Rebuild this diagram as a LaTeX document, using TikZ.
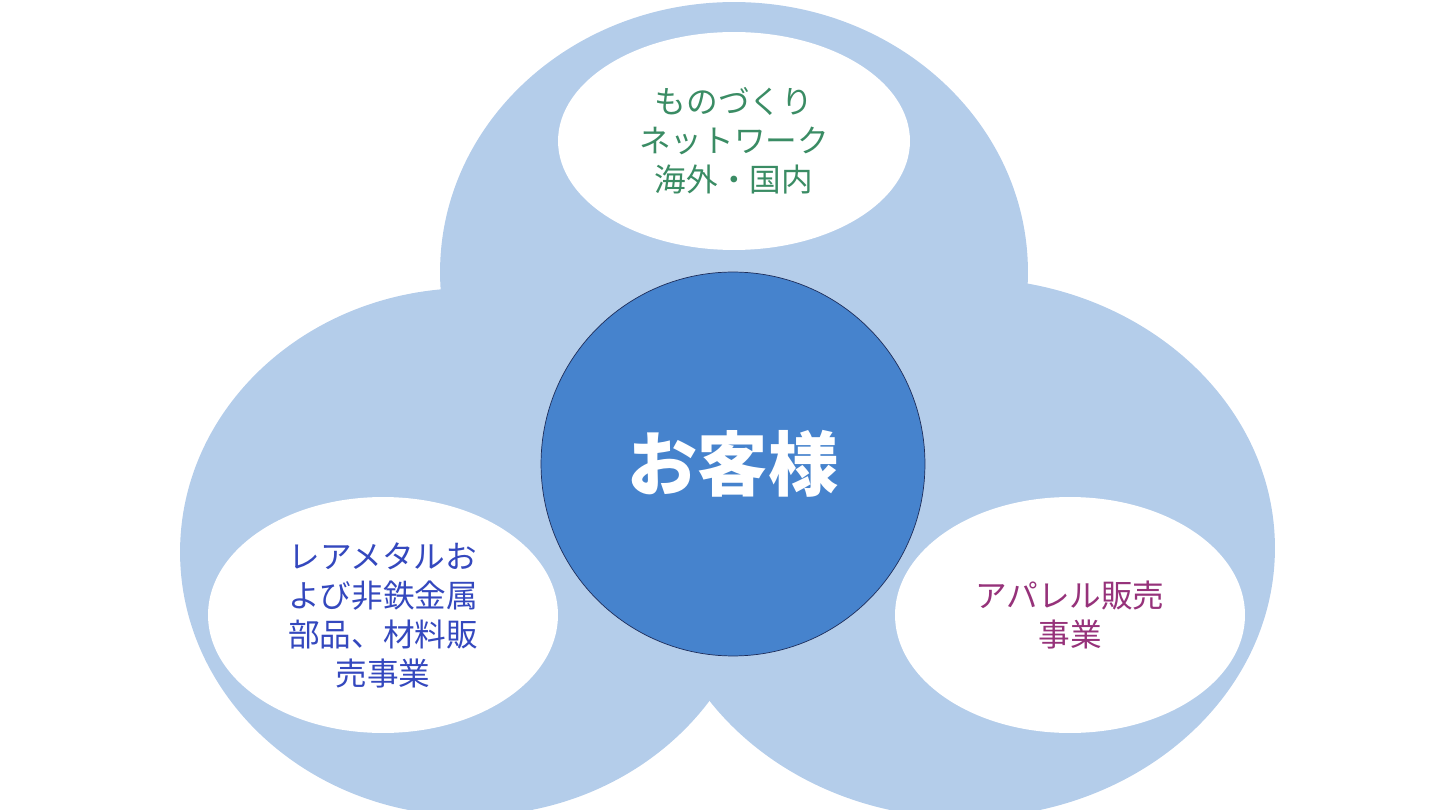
\documentclass[tikz,border=0pt]{standalone}
\usepackage{fontspec}
\setmainfont{Noto Sans CJK JP}
\usepackage{tikz}
\usetikzlibrary{positioning,shapes.geometric}
\usepackage{xcolor}
\definecolor{venblue}{RGB}{180,205,234}
\definecolor{kyakublue}{RGB}{70,131,205}
\definecolor{kyakunavy}{RGB}{30,45,90}
\definecolor{txtgreen}{RGB}{58,140,100}
\definecolor{txtblue}{RGB}{52,72,190}
\definecolor{txtpurple}{RGB}{150,50,122}

\begin{document}
\begin{tikzpicture}[
      x=0.02cm,y=-0.02cm,
      biz/.style={ellipse,fill=white,inner sep=0pt,minimum width=7cm,minimum height=4.72cm,align=center,font=\fontsize{18}{22.2}\selectfont},
      hub/.style={circle,draw=kyakunavy,line width=0.4pt,fill=kyakublue,minimum size=7.68cm,text=white,font=\fontsize{40}{48}\selectfont\bfseries}
    ]
    \useasboundingbox (0,0) rectangle (1440,810);
    \fill[venblue] (734,272) ellipse [x radius=5.88cm,y radius=5.4cm];
    \fill[venblue] (470,552) ellipse [x radius=5.8cm,y radius=5.28cm];
    \fill[venblue] (965,548) ellipse [x radius=6.2cm,y radius=5.4cm];
    \node[hub] (kyaku) at (733,464) {お客様};
    \node[biz,minimum width=7.04cm,minimum height=4.36cm,text=txtgreen] (mono) at (734,141) {ものづくり\\ネットワーク\\海外・国内};
    \node[biz,text=txtblue] (metal) at (383,615) {レアメタルお\\よび非鉄金属\\部品、材料販\\売事業};
    \node[biz,text=txtpurple] (apparel) at (1070,615) {アパレル販売\\事業};
  \end{tikzpicture}
\end{document}
